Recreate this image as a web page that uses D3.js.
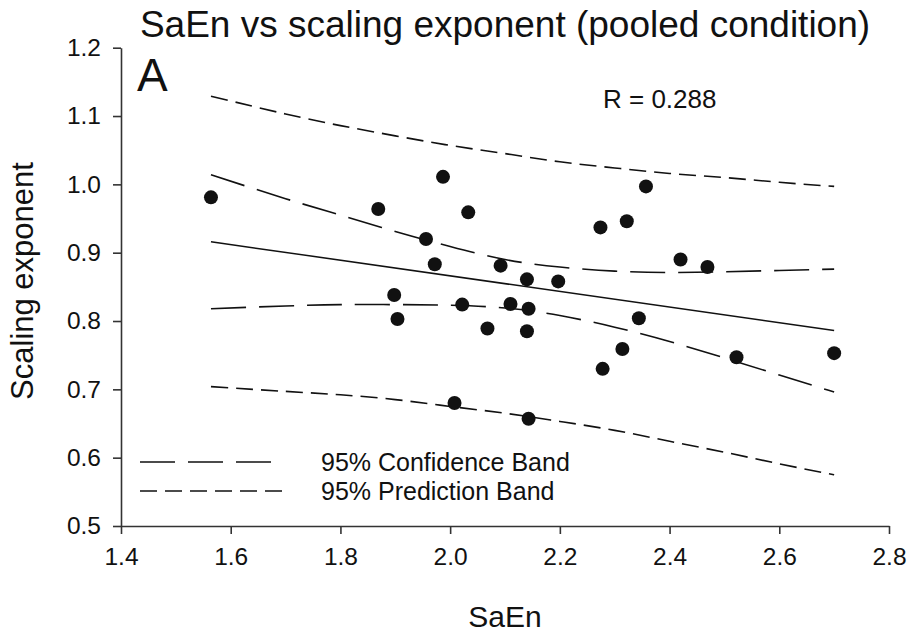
<!DOCTYPE html>
<html>
<head>
<meta charset="utf-8">
<script src="https://cdn.jsdelivr.net/npm/d3@7"></script>
<style>
  html, body { margin: 0; padding: 0; background: #fff; }
  svg { display: block; font-family: "Liberation Sans", Arial, sans-serif; }
</style>
</head>
<body>
<svg id="chart" width="911" height="636"></svg>
<script>
// Observations: sample entropy (SaEn) against scaling exponent
const saen = [1.564, 1.869, 1.987, 1.956, 1.972, 1.898, 1.904, 2.033, 2.008, 2.022,
              2.092, 2.110, 2.140, 2.143, 2.068, 2.140, 2.143, 2.197, 2.274, 2.322,
              2.357, 2.420, 2.469, 2.344, 2.314, 2.278, 2.522, 2.700];
const exponent = [0.981, 0.964, 1.011, 0.920, 0.883, 0.838, 0.803, 0.959, 0.680, 0.824,
                  0.881, 0.825, 0.861, 0.818, 0.789, 0.785, 0.657, 0.858, 0.937, 0.946,
                  0.997, 0.890, 0.879, 0.804, 0.759, 0.730, 0.747, 0.753];

// Linear fit end points
const fitX = [1.564, 2.700];
const fitY = [0.916, 0.786];

// Band curves sampled along SaEn
const bandX   = [1.564, 1.7, 1.8, 1.9, 2.0, 2.1, 2.2, 2.3, 2.4, 2.5, 2.6, 2.7];
const ciUpper = [1.014, 0.979, 0.955, 0.931, 0.909, 0.890, 0.879, 0.873, 0.871, 0.872, 0.874, 0.876];
const ciLower = [0.818, 0.822, 0.824, 0.824, 0.823, 0.819, 0.808, 0.791, 0.770, 0.746, 0.721, 0.696];
const piUpper = [1.129, 1.103, 1.086, 1.071, 1.057, 1.045, 1.033, 1.024, 1.016, 1.010, 1.003, 0.997];
const piLower = [0.704, 0.697, 0.692, 0.685, 0.675, 0.665, 0.653, 0.640, 0.624, 0.608, 0.591, 0.575];

const xTicks = [1.4, 1.6, 1.8, 2.0, 2.2, 2.4, 2.6, 2.8];
const yTicks = [0.5, 0.6, 0.7, 0.8, 0.9, 1.0, 1.1, 1.2];

const titleText = "SaEn vs scaling exponent (pooled condition)";
const panelText = "A";
const rText = "R = 0.288";
const legendLabels = ["95% Confidence Band", "95% Prediction Band"];

const svg = d3.select("#chart");
const ink = "#111";

const x = d3.scaleLinear().domain([1.4, 2.8]).range([121, 889]);
const y = d3.scaleLinear().domain([0.5, 1.2]).range([526, 47.7]);

// Axes
const xAxis = svg.append("g")
  .attr("transform", `translate(0,${y(0.5)})`)
  .call(d3.axisBottom(x).tickValues(xTicks).tickFormat(d3.format(".1f"))
        .tickSize(8).tickSizeOuter(0).tickPadding(14));
const yAxis = svg.append("g")
  .attr("transform", `translate(${x(1.4)},0)`)
  .call(d3.axisLeft(y).tickValues(yTicks).tickFormat(d3.format(".1f"))
        .tickSize(8).tickSizeOuter(0).tickPadding(12));

[xAxis, yAxis].forEach(g => {
  g.select(".domain").attr("stroke", "#333").attr("stroke-width", 1.6);
  g.selectAll(".tick line").attr("stroke", "#333").attr("stroke-width", 1.6);
  g.selectAll(".tick text").attr("fill", ink).style("font-size", "24.5px")
    .style("font-family", "'Liberation Sans', Arial, sans-serif");
});

// Curves
const line = d3.line().x(d => x(d[0])).y(d => y(d[1]));
const smooth = d3.line().x(d => x(d[0])).y(d => y(d[1])).curve(d3.curveNatural);

svg.append("path")
  .datum(d3.zip(fitX, fitY))
  .attr("d", line).attr("fill", "none").attr("stroke", ink).attr("stroke-width", 1.5);

const ciDash = "35,13";
const piDash = "17,8";
[ciUpper, ciLower].forEach(arr => {
  svg.append("path").datum(d3.zip(bandX, arr)).attr("d", smooth)
    .attr("fill", "none").attr("stroke", ink).attr("stroke-width", 1.6)
    .attr("stroke-dasharray", ciDash);
});
[piUpper, piLower].forEach(arr => {
  svg.append("path").datum(d3.zip(bandX, arr)).attr("d", smooth)
    .attr("fill", "none").attr("stroke", ink).attr("stroke-width", 1.6)
    .attr("stroke-dasharray", piDash);
});

// Points
svg.append("g").selectAll("circle")
  .data(d3.zip(saen, exponent))
  .join("circle")
  .attr("cx", d => x(d[0])).attr("cy", d => y(d[1]))
  .attr("r", 7).attr("fill", ink);

// Text
svg.append("text").attr("x", 505).attr("y", 37).attr("text-anchor", "middle")
  .style("font-size", "37px").attr("fill", ink).text(titleText);
svg.append("text").attr("x", 137).attr("y", 91)
  .style("font-size", "46px").attr("fill", ink).text(panelText);
svg.append("text").attr("x", 603).attr("y", 108)
  .style("font-size", "26px").attr("fill", ink).text(rText);
svg.append("text").attr("x", 505).attr("y", 627).attr("text-anchor", "middle")
  .style("font-size", "30px").attr("fill", ink).text("SaEn");
svg.append("text").attr("transform", "translate(33,281) rotate(-90)")
  .attr("text-anchor", "middle")
  .style("font-size", "31px").attr("fill", ink).text("Scaling exponent");

// Legend
const legend = [
  { label: legendLabels[0], dash: ciDash, y: 462, x2: 272 },
  { label: legendLabels[1], dash: piDash, y: 491, x2: 283 }
];
legend.forEach(l => {
  svg.append("line").attr("x1", 140).attr("x2", l.x2).attr("y1", l.y).attr("y2", l.y)
    .attr("stroke", ink).attr("stroke-width", 1.6).attr("stroke-dasharray", l.dash);
  svg.append("text").attr("x", 321).attr("y", l.y + 9)
    .style("font-size", "25px").attr("fill", ink).text(l.label);
});
</script>
</body>
</html>
